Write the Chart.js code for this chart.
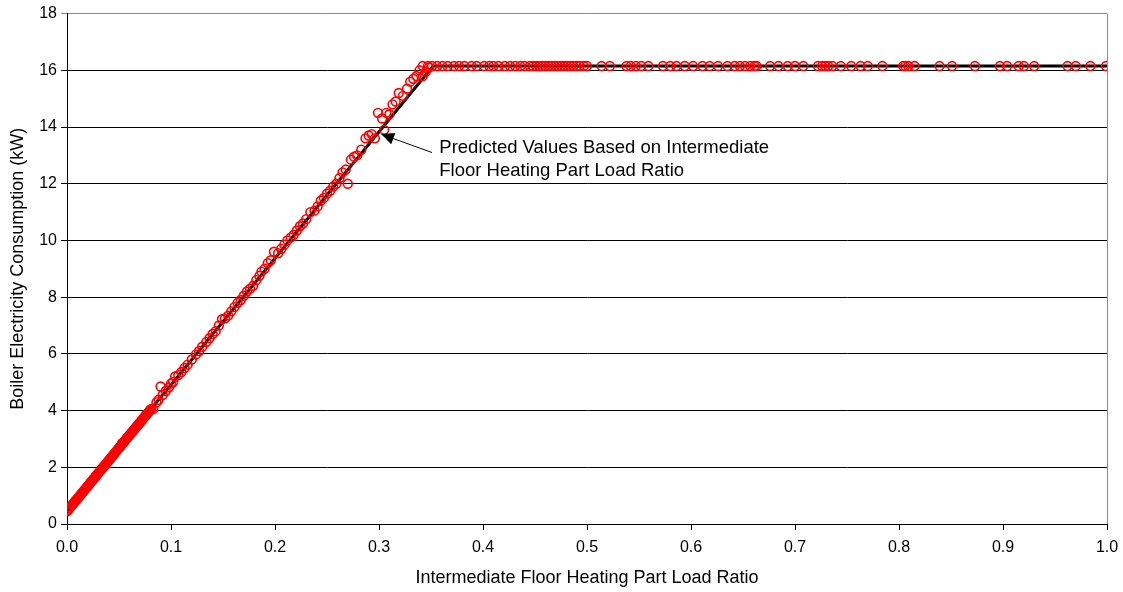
<!DOCTYPE html>
<html>
<head>
<meta charset="utf-8">
<script src="https://cdn.jsdelivr.net/npm/chart.js@4.4.1/dist/chart.umd.min.js"></script>
<style>
  html, body { margin: 0; padding: 0; background: #fff; }
  #wrap { width: 1123px; height: 592px; }
</style>
</head>
<body>
<div id="wrap"><canvas id="boilerChart" width="1123" height="592"></canvas></div>
<script>
// Measured boiler electricity vs. part load ratio
const rampRatio = [
  0.000, 0.002, 0.004, 0.006, 0.008, 0.010, 0.012, 0.014, 0.016, 0.018,
  0.020, 0.022, 0.024, 0.026, 0.028, 0.030, 0.032, 0.034, 0.036, 0.038,
  0.040, 0.043, 0.045, 0.048, 0.050, 0.052, 0.053, 0.055, 0.056, 0.058,
  0.061, 0.063, 0.065, 0.067, 0.070, 0.072, 0.074, 0.076, 0.078, 0.080,
  0.083, 0.086, 0.088, 0.090, 0.092, 0.095, 0.098, 0.100, 0.102, 0.104,
  0.107, 0.110, 0.113, 0.116, 0.120, 0.124, 0.127, 0.130, 0.134, 0.137,
  0.140, 0.143, 0.146, 0.149, 0.152, 0.155, 0.158, 0.161, 0.164, 0.167,
  0.170, 0.173, 0.176, 0.179, 0.182, 0.185, 0.187, 0.190, 0.193, 0.196,
  0.199, 0.203, 0.206, 0.209, 0.212, 0.215, 0.218, 0.221, 0.224, 0.227,
  0.230, 0.234, 0.238, 0.241, 0.244, 0.247, 0.250, 0.253, 0.256, 0.259,
  0.262, 0.265, 0.268, 0.270, 0.273, 0.276, 0.279, 0.283, 0.287, 0.290,
  0.293, 0.296, 0.299, 0.303, 0.305, 0.307, 0.310, 0.313, 0.316, 0.319,
  0.323, 0.327, 0.330, 0.333, 0.336, 0.339, 0.342, 0.345, 0.348
];
const rampKW = [
  0.45, 0.54, 0.63, 0.72, 0.81, 0.90, 0.98, 1.07, 1.16, 1.25,
  1.34, 1.43, 1.52, 1.61, 1.70, 1.79, 1.88, 1.97, 2.06, 2.14,
  2.23, 2.37, 2.46, 2.59, 2.68, 2.77, 2.85, 2.90, 2.95, 3.04,
  3.17, 3.26, 3.35, 3.44, 3.57, 3.66, 3.75, 3.84, 3.93, 4.02,
  4.05, 4.29, 4.38, 4.85, 4.55, 4.69, 4.82, 4.95, 5.00, 5.20,
  5.25, 5.36, 5.50, 5.62, 5.80, 5.98, 6.10, 6.25, 6.42, 6.55,
  6.70, 6.80, 7.00, 7.22, 7.25, 7.35, 7.50, 7.65, 7.80, 7.90,
  8.05, 8.20, 8.30, 8.40, 8.60, 8.75, 8.90, 9.00, 9.20, 9.30,
  9.60, 9.55, 9.70, 9.85, 10.00, 10.10, 10.20, 10.35, 10.50, 10.60,
  10.75, 11.00, 11.05, 11.20, 11.40, 11.50, 11.65, 11.75, 11.90, 12.00,
  12.20, 12.40, 12.50, 12.00, 12.85, 12.95, 13.00, 13.20, 13.60, 13.70,
  13.75, 13.60, 14.50, 14.30, 13.90, 14.50, 14.45, 14.80, 14.90, 15.20,
  15.10, 15.35, 15.60, 15.70, 15.80, 16.00, 15.80, 15.95, 16.10
];
// the crowded band at low load
const denseRatio = [
  0.001, 0.003, 0.005, 0.007, 0.009, 0.011, 0.013, 0.015, 0.017, 0.019,
  0.021, 0.023, 0.025, 0.027, 0.029, 0.031, 0.033, 0.035, 0.037, 0.039,
  0.041, 0.042, 0.044, 0.046, 0.047, 0.049, 0.051, 0.054, 0.057, 0.059,
  0.060, 0.062, 0.064, 0.066, 0.068, 0.069, 0.071, 0.073, 0.075, 0.077,
  0.079, 0.081
];
const denseKW = [
  0.49, 0.58, 0.67, 0.76, 0.85, 0.94, 1.03, 1.12, 1.21, 1.30,
  1.39, 1.48, 1.57, 1.65, 1.74, 1.83, 1.92, 2.01, 2.10, 2.19,
  2.28, 2.32, 2.41, 2.50, 2.55, 2.64, 2.72, 2.86, 3.00, 3.08,
  3.13, 3.22, 3.30, 3.40, 3.48, 3.53, 3.62, 3.70, 3.80, 3.88,
  3.97, 4.06
];
const capRatio = [
  0.342, 0.347, 0.351, 0.356, 0.361, 0.366, 0.372, 0.377, 0.382, 0.389,
  0.394, 0.401, 0.406, 0.410, 0.415, 0.421, 0.426, 0.431, 0.436, 0.440,
  0.445, 0.448, 0.451, 0.454, 0.457, 0.460, 0.463, 0.466, 0.469, 0.472,
  0.475, 0.478, 0.481, 0.484, 0.487, 0.490, 0.493, 0.497, 0.500, 0.514,
  0.522, 0.538, 0.542, 0.547, 0.552, 0.559, 0.573, 0.580, 0.586, 0.594,
  0.602, 0.611, 0.618, 0.626, 0.635, 0.642, 0.647, 0.652, 0.657, 0.661,
  0.663, 0.676, 0.684, 0.693, 0.700, 0.708, 0.722, 0.726, 0.729, 0.732,
  0.736, 0.744, 0.754, 0.763, 0.770, 0.784, 0.804, 0.806, 0.809, 0.815,
  0.839, 0.851, 0.873, 0.897, 0.904, 0.915, 0.920, 0.930, 0.962, 0.970,
  0.984, 0.999
];
const capKW = [
  16.15, 16.15, 16.15, 16.15, 16.15, 16.15, 16.15, 16.15, 16.15, 16.15,
  16.15, 16.15, 16.15, 16.15, 16.15, 16.15, 16.15, 16.15, 16.15, 16.15,
  16.15, 16.15, 16.15, 16.15, 16.15, 16.15, 16.15, 16.15, 16.15, 16.15,
  16.15, 16.15, 16.15, 16.15, 16.15, 16.15, 16.15, 16.15, 16.15, 16.15,
  16.15, 16.15, 16.15, 16.15, 16.15, 16.15, 16.15, 16.15, 16.15, 16.15,
  16.15, 16.15, 16.15, 16.15, 16.15, 16.15, 16.15, 16.15, 16.15, 16.15,
  16.15, 16.15, 16.15, 16.15, 16.15, 16.15, 16.15, 16.15, 16.15, 16.15,
  16.15, 16.15, 16.15, 16.15, 16.15, 16.15, 16.15, 16.15, 16.15, 16.15,
  16.15, 16.15, 16.15, 16.15, 16.15, 16.15, 16.15, 16.15, 16.15, 16.15,
  16.15, 16.15
];

// Predicted values line (ramp then capped)
const predictedRatio = [0.0, 0.352, 1.0];
const predictedKW = [0.45, 16.15, 16.15];

const xTickValues = [0, 0.1, 0.2, 0.3, 0.4, 0.5, 0.6, 0.7, 0.8, 0.9, 1.0];
const yTickValues = [0, 2, 4, 6, 8, 10, 12, 14, 16, 18];

const noteLines = ['Predicted Values Based on Intermediate', 'Floor Heating Part Load Ratio'];

const FONT = 'Liberation Sans, Arial, sans-serif';

function toPoints(xs, ys) {
    return xs.map((x, i) => ({ x: x, y: ys[i] }));
}

// Right border of the plot area + annotation with arrow
const frameAndNote = {
    id: 'frameAndNote',
    afterDatasetsDraw(chart) {
        const ctx = chart.ctx;
        const area = chart.chartArea;
        const xs = chart.scales.x;
        const ys = chart.scales.y;
        ctx.save();
        ctx.strokeStyle = '#8c8c8c';
        ctx.lineWidth = 1;
        ctx.beginPath();
        ctx.moveTo(Math.round(area.right) + 0.5, area.top);
        ctx.lineTo(Math.round(area.right) + 0.5, area.bottom);
        ctx.stroke();

        // arrow
        const tail = { x: xs.getPixelForValue(0.351), y: ys.getPixelForValue(13.1) };
        const tip = { x: xs.getPixelForValue(0.302), y: ys.getPixelForValue(13.75) };
        const ang = Math.atan2(tip.y - tail.y, tip.x - tail.x);
        const headLen = 13, headW = 6;
        const baseX = tip.x - headLen * Math.cos(ang);
        const baseY = tip.y - headLen * Math.sin(ang);
        ctx.strokeStyle = '#000';
        ctx.lineWidth = 1;
        ctx.beginPath();
        ctx.moveTo(tail.x, tail.y);
        ctx.lineTo(baseX, baseY);
        ctx.stroke();
        ctx.fillStyle = '#000';
        ctx.beginPath();
        ctx.moveTo(tip.x, tip.y);
        ctx.lineTo(baseX + headW * Math.sin(ang), baseY - headW * Math.cos(ang));
        ctx.lineTo(baseX - headW * Math.sin(ang), baseY + headW * Math.cos(ang));
        ctx.closePath();
        ctx.fill();

        // note text
        ctx.font = '18.5px ' + FONT;
        ctx.fillStyle = '#000';
        ctx.textAlign = 'left';
        ctx.textBaseline = 'middle';
        const tx = xs.getPixelForValue(0.358);
        ctx.fillText(noteLines[0], tx, ys.getPixelForValue(13.26));
        ctx.fillText(noteLines[1], tx, ys.getPixelForValue(12.45));
        ctx.restore();
    }
};

const ctx = document.getElementById('boilerChart').getContext('2d');
new Chart(ctx, {
    type: 'scatter',
    data: {
        datasets: [
            {
                label: 'Measured',
                data: toPoints(rampRatio, rampKW)
                    .concat(toPoints(denseRatio, denseKW))
                    .concat(toPoints(capRatio, capKW)),
                pointStyle: 'circle',
                pointRadius: 4.4,
                pointBorderWidth: 1.6,
                borderColor: '#ff0000',
                backgroundColor: 'rgba(0,0,0,0)',
                order: 1
            },
            {
                label: 'Predicted',
                data: toPoints(predictedRatio, predictedKW),
                showLine: true,
                borderColor: '#000',
                borderWidth: 3,
                pointRadius: 0,
                order: 2
            }
        ]
    },
    options: {
        responsive: false,
        animation: false,
        events: [],
        layout: { padding: { top: 12, right: 16, left: 0, bottom: 0 } },
        plugins: {
            legend: { display: false },
            tooltip: { enabled: false }
        },
        scales: {
            x: {
                type: 'linear',
                min: 0,
                max: 1,
                afterBuildTicks: axis => { axis.ticks = xTickValues.map(v => ({ value: v })); },
                afterFit: axis => {
                    axis.height = 68;
                    axis.paddingLeft = 0;
                    axis.paddingRight = 0;
                },
                ticks: {
                    color: '#000',
                    font: { family: FONT, size: 16 },
                    padding: 8,
                    maxRotation: 0,
                    callback: v => v.toFixed(1)
                },
                grid: { drawOnChartArea: false, tickLength: 6, color: '#000' },
                border: { color: '#000', width: 1 },
                title: {
                    display: true,
                    text: 'Intermediate Floor Heating Part Load Ratio',
                    color: '#000',
                    font: { family: FONT, size: 18 },
                    padding: { top: 4, bottom: 3 }
                }
            },
            y: {
                min: 0,
                max: 18,
                afterBuildTicks: axis => { axis.ticks = yTickValues.map(v => ({ value: v })); },
                afterFit: axis => { axis.width = 67; },
                ticks: {
                    color: '#000',
                    font: { family: FONT, size: 16 },
                    padding: 4
                },
                grid: {
                    tickLength: 6,
                    color: c => (c.tick && c.tick.value === 18 ? '#8c8c8c' : '#000'),
                    lineWidth: 1
                },
                border: { color: '#000', width: 1 },
                title: {
                    display: true,
                    text: 'Boiler Electricity Consumption (kW)',
                    color: '#000',
                    font: { family: FONT, size: 18 },
                    padding: { top: 7, bottom: 4 }
                }
            }
        }
    },
    plugins: [frameAndNote]
});
</script>
</body>
</html>
